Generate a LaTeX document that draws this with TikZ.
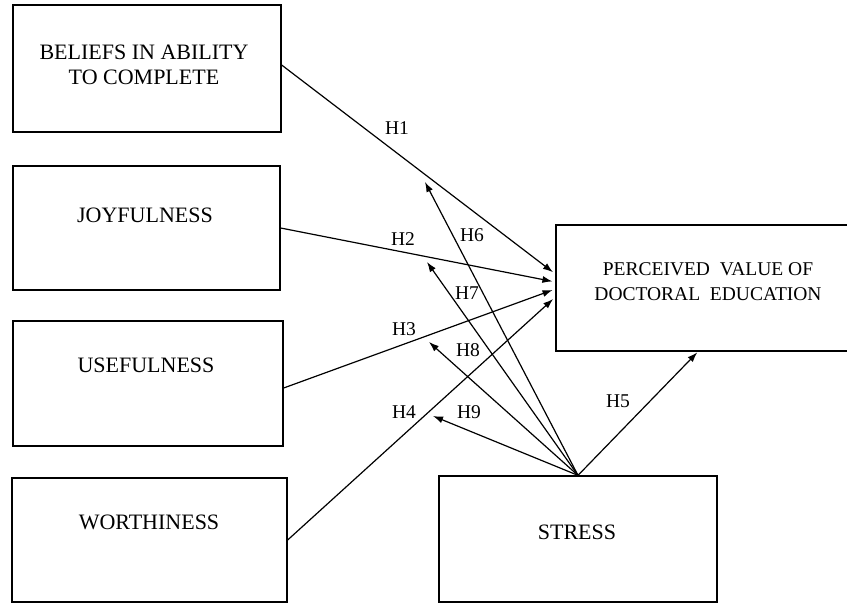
\documentclass[tikz,border=0pt]{standalone}
\usepackage{fontspec}
\setmainfont{Liberation Serif}
\usetikzlibrary{arrows.meta}
\begin{document}
\begin{tikzpicture}[x=1pt,y=-1pt,
  box/.style={draw, line width=1.3pt, inner sep=0pt},
  boxtext/.style={font=\fontsize{22}{25}\selectfont, align=center, inner sep=0pt},
  hyp/.style={font=\fontsize{19.5}{22}\selectfont, inner sep=0pt},
  link/.style={draw, line width=1.2pt, -{Latex[length=10pt,width=7pt]}}]
\useasboundingbox (0,0) rectangle (847,603);

\node[box, minimum width=268pt, minimum height=127pt] (beliefs) at (147,68.5) {};
\node[box, minimum width=267pt, minimum height=124pt] (joy) at (146.5,228) {};
\node[box, minimum width=270pt, minimum height=125pt] (useful) at (148,383.5) {};
\node[box, minimum width=275pt, minimum height=124pt] (worth) at (149.5,540) {};
\node[box, minimum width=306pt, minimum height=126pt] (value) at (709,288) {};
\node[box, minimum width=278pt, minimum height=126pt] (stress) at (578,539) {};

\node[boxtext] (beliefs-t) at (144,64.5) {BELIEFS IN ABILITY\\TO COMPLETE};
\node[boxtext] (joy-t) at (145,215) {JOYFULNESS};
\node[boxtext] (useful-t) at (146,365) {USEFULNESS};
\node[boxtext] (worth-t) at (149,522) {WORTHINESS};
\node[boxtext, font=\fontsize{19.5}{25}\selectfont] (value-t) at (708,281.5) {PERCEIVED\ \ VALUE OF\\DOCTORAL\ \ EDUCATION};
\node[boxtext] (stress-t) at (577,532) {STRESS};

\coordinate (h6) at (425,182);
\coordinate (h7) at (427,262);
\coordinate (h8) at (429,342);
\coordinate (h9) at (433,416);

\path[link, shorten >=3pt] ([yshift=3.5pt]beliefs.east) -- ([yshift=14pt]value.west);
\path[link, shorten >=3pt] (joy.east) -- ([yshift=6pt]value.west);
\path[link, shorten >=3pt] ([yshift=-4.5pt]useful.east) -- ([yshift=-1pt]value.west);
\path[link, shorten >=3pt] (worth.east) -- ([yshift=-9pt]value.west);
\path[link, shorten >=1pt] (stress.north) -- ([xshift=-11pt]value.south);
\path[link] (stress.north) -- (h6);
\path[link] (stress.north) -- (h7);
\path[link] (stress.north) -- (h8);
\path[link] (stress.north) -- (h9);

\node[hyp] (l1) at (397,128) {H1};
\node[hyp] (l2) at (403,239) {H2};
\node[hyp] (l3) at (404,329) {H3};
\node[hyp] (l4) at (404,412) {H4};
\node[hyp] (l5) at (618,401) {H5};
\node[hyp] (l6) at (472,235) {H6};
\node[hyp] (l7) at (467,293) {H7};
\node[hyp] (l8) at (468,350) {H8};
\node[hyp] (l9) at (469,412) {H9};
\end{tikzpicture}
\end{document}
